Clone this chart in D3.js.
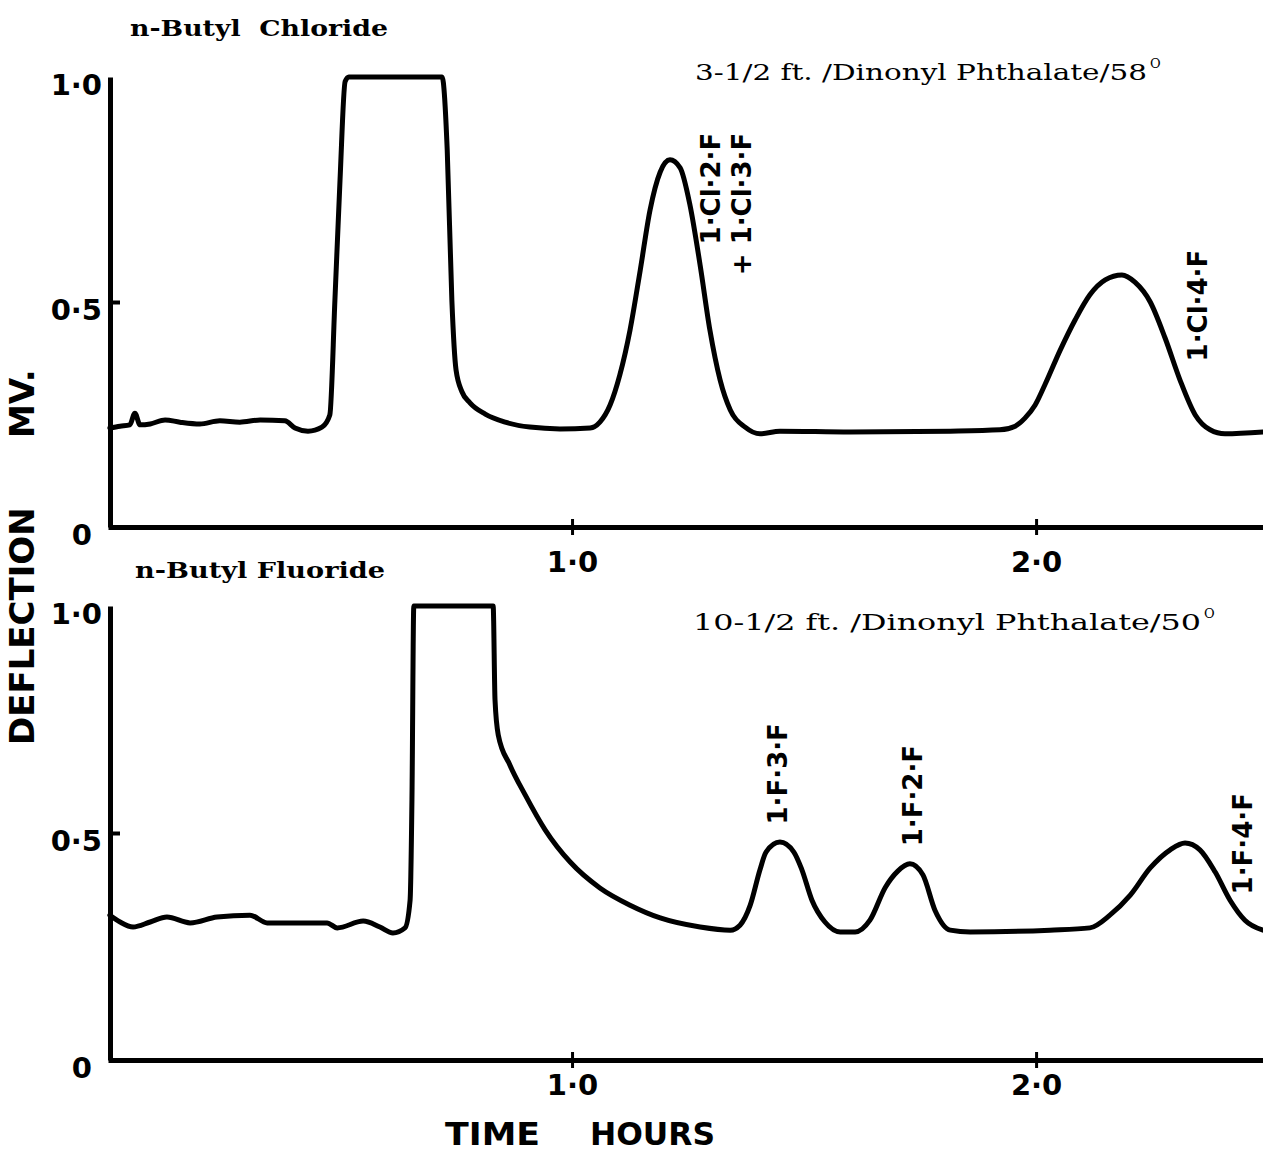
<!DOCTYPE html>
<html>
<head>
<meta charset="utf-8">
<script src="https://cdn.jsdelivr.net/npm/d3@7"></script>
<style>
  html, body { margin: 0; padding: 0; background: #fff; }
  svg { display: block; }
</style>
</head>
<body>
<svg id="chart" width="1263" height="1156"></svg>
<script>
// Chromatogram traces: time in hours, detector deflection in mV.
const chlorideTime = [0.004, 0.026, 0.047, 0.058, 0.069, 0.091, 0.123, 0.155, 0.198, 0.241, 0.284, 0.328, 0.381, 0.403, 0.431, 0.461, 0.478, 0.489, 0.500, 0.511, 0.519,
  0.720, 0.731, 0.741, 0.750, 0.763, 0.780, 0.813, 0.856, 0.909, 0.974, 1.039, 1.060, 1.082, 1.103, 1.125, 1.147, 1.168, 1.190, 1.211, 1.233, 1.254, 1.276, 1.297, 1.319, 1.341, 1.373, 1.405, 1.448, 1.599, 1.815, 1.922, 1.955, 1.976, 1.998, 2.019, 2.052, 2.084, 2.116, 2.149, 2.185, 2.213, 2.246, 2.278, 2.310, 2.343, 2.375, 2.407, 2.489];
const chlorideMv = [0.220, 0.224, 0.227, 0.253, 0.227, 0.229, 0.238, 0.233, 0.229, 0.236, 0.233, 0.238, 0.236, 0.220, 0.213, 0.222, 0.249, 0.504, 0.771, 0.990, 1.000,
  1.000, 0.838, 0.504, 0.349, 0.300, 0.276, 0.251, 0.233, 0.222, 0.218, 0.220, 0.233, 0.271, 0.338, 0.438, 0.571, 0.704, 0.789, 0.816, 0.798, 0.716, 0.582, 0.438, 0.327, 0.260, 0.222, 0.207, 0.213, 0.211, 0.213, 0.216, 0.224, 0.242, 0.271, 0.316, 0.393, 0.460, 0.516, 0.549, 0.560, 0.544, 0.500, 0.420, 0.327, 0.249, 0.216, 0.207, 0.211];

const fluorideTime = [0.004, 0.026, 0.054, 0.091, 0.127, 0.177, 0.235, 0.306, 0.343, 0.414, 0.472, 0.494, 0.550, 0.586, 0.614, 0.640, 0.651, 0.655, 0.659,
  0.830, 0.834, 0.841, 0.866, 0.899, 0.942, 0.996, 1.060, 1.125, 1.190, 1.276, 1.341, 1.362, 1.384, 1.405, 1.418, 1.448, 1.478, 1.495, 1.517, 1.545, 1.578, 1.610, 1.642, 1.675, 1.702, 1.728, 1.756, 1.782, 1.815, 1.858, 2.030, 2.116, 2.159, 2.203, 2.246, 2.289, 2.321, 2.353, 2.386, 2.418, 2.450, 2.489];
const fluorideMv = [0.319, 0.304, 0.293, 0.304, 0.315, 0.302, 0.315, 0.319, 0.302, 0.302, 0.302, 0.291, 0.306, 0.293, 0.280, 0.291, 0.352, 0.573, 1.000,
  1.000, 0.793, 0.716, 0.650, 0.584, 0.507, 0.436, 0.379, 0.341, 0.313, 0.293, 0.286, 0.297, 0.341, 0.419, 0.458, 0.480, 0.458, 0.420, 0.352, 0.304, 0.282, 0.282, 0.308, 0.380, 0.416, 0.432, 0.408, 0.330, 0.286, 0.282, 0.286, 0.291, 0.319, 0.363, 0.423, 0.463, 0.478, 0.463, 0.414, 0.352, 0.308, 0.286];

// Axis ticks and their printed labels
const hourTicks = [1.0, 2.0];
const hourTickLabels = ["1·0", "2·0"];
const mvTicks = [0, 0.5, 1.0];
const mvTickLabels = ["0", "0·5", "1·0"];

// Peak identifications: label lines, and the time / deflection where each column tops out
const chloridePeaks = [
  { text: "1·Cl·2·F", t: 1.30, v: 0.876 },
  { text: "+ 1·Cl·3·F", t: 1.366, v: 0.876 },
  { text: "1·Cl·4·F", t: 2.35, v: 0.616 }
];
const fluoridePeaks = [
  { text: "1·F·3·F", t: 1.443, v: 0.742 },
  { text: "1·F·2·F", t: 1.735, v: 0.694 },
  { text: "1·F·4·F", t: 2.446, v: 0.588 }
];

const svg = d3.select("#chart");
const W = 1263;

const x = d3.scaleLinear().domain([0, 2.489]).range([108, W]);

const panels = [
  { title: "n-Butyl  Chloride", titleLen: 258, sub: "3-1/2 ft. /Dinonyl Phthalate/58", subLen: 452,
    time: chlorideTime, mv: chlorideMv, peaks: chloridePeaks, y0: 527, y1: 77, titleY: 36, subY: 80 },
  { title: "n-Butyl Fluoride", titleLen: 250, sub: "10-1/2 ft. /Dinonyl Phthalate/50", subLen: 508,
    time: fluorideTime, mv: fluorideMv, peaks: fluoridePeaks, y0: 1060, y1: 606, titleY: 578, subY: 630 }
];

const sans = "'DejaVu Sans', sans-serif";
const serif = "'DejaVu Serif', serif";

panels.forEach((p, i) => {
  const y = d3.scaleLinear().domain([0, 1]).range([p.y0, p.y1]);
  const g = svg.append("g");

  // Titles
  g.append("text")
    .attr("x", i === 0 ? 130 : 135).attr("y", p.titleY)
    .attr("font-family", serif).attr("font-weight", "bold").attr("font-size", 23)
    .attr("textLength", p.titleLen).attr("lengthAdjust", "spacingAndGlyphs")
    .attr("xml:space", "preserve")
    .text(p.title);

  const sub = g.append("text")
    .attr("x", i === 0 ? 695 : 693).attr("y", p.subY)
    .attr("font-family", serif).attr("font-size", 22);
  sub.append("tspan").attr("textLength", p.subLen).attr("lengthAdjust", "spacingAndGlyphs").text(p.sub);
  sub.append("tspan").attr("font-size", 13).attr("dx", 3).attr("dy", -12).text("O");

  // Trace
  const line = d3.line()
    .x((d, k) => x(p.time[k]))
    .y((d, k) => y(p.mv[k]))
    .curve(d3.curveMonotoneX);
  g.append("path")
    .datum(p.time)
    .attr("d", line)
    .attr("fill", "none")
    .attr("stroke", "#000")
    .attr("stroke-width", 5)
    .attr("stroke-linejoin", "round")
    .attr("stroke-linecap", "round");

  // Time axis
  const xAxis = d3.axisBottom(x)
    .tickValues(hourTicks)
    .tickFormat((d, k) => hourTickLabels[k])
    .tickSizeInner(8).tickSizeOuter(0).tickPadding(i === 0 ? 16 : 6);
  const gx = g.append("g").attr("transform", `translate(0,${p.y0})`).call(xAxis);
  gx.select(".domain").attr("stroke", "#000").attr("stroke-width", 5);
  gx.selectAll(".tick line").attr("y1", -8).attr("stroke-width", 3);
  gx.selectAll(".tick text")
    .attr("font-family", sans).attr("font-weight", "bold").attr("font-size", 29).attr("fill", "#000");

  // Deflection axis
  const yAxis = d3.axisLeft(y)
    .tickValues(mvTicks)
    .tickFormat((d, k) => mvTickLabels[k])
    .tickSizeInner(-10).tickSizeOuter(0).tickPadding(8);
  const gy = g.append("g").attr("transform", "translate(110,0)").call(yAxis);
  gy.select(".domain").attr("stroke", "#000").attr("stroke-width", 5);
  gy.selectAll(".tick line").attr("stroke-width", 4)
    .attr("display", d => d === 0.5 ? null : "none");
  gy.selectAll(".tick text")
    .attr("font-family", sans).attr("font-weight", "bold").attr("font-size", 29).attr("fill", "#000")
    .attr("dx", d => d === 0 ? -10 : 0)
    .attr("dy", "0.6em");

  // Peak labels, reading upward
  p.peaks.forEach(pk => {
    g.append("text")
      .attr("transform", `translate(${x(pk.t)},${y(pk.v)}) rotate(-90)`)
      .attr("text-anchor", "end")
      .attr("dominant-baseline", "central")
      .attr("font-family", sans).attr("font-weight", "bold").attr("font-size", 26)
      .text(pk.text);
  });
});

// Shared axis titles
svg.append("text")
  .attr("transform", "translate(22,745) rotate(-90)")
  .attr("dominant-baseline", "central")
  .attr("font-family", sans).attr("font-weight", "bold").attr("font-size", 34)
  .text("DEFLECTION");
svg.append("text")
  .attr("transform", "translate(22,438) rotate(-90)")
  .attr("dominant-baseline", "central")
  .attr("font-family", sans).attr("font-weight", "bold").attr("font-size", 34)
  .text("MV.");

svg.append("text").attr("x", 445).attr("y", 1145)
  .attr("font-family", sans).attr("font-weight", "bold").attr("font-size", 32)
  .attr("textLength", 95).attr("lengthAdjust", "spacingAndGlyphs").text("TIME");
svg.append("text").attr("x", 590).attr("y", 1145)
  .attr("font-family", sans).attr("font-weight", "bold").attr("font-size", 32)
  .attr("textLength", 125).attr("lengthAdjust", "spacingAndGlyphs").text("HOURS");
</script>
</body>
</html>
